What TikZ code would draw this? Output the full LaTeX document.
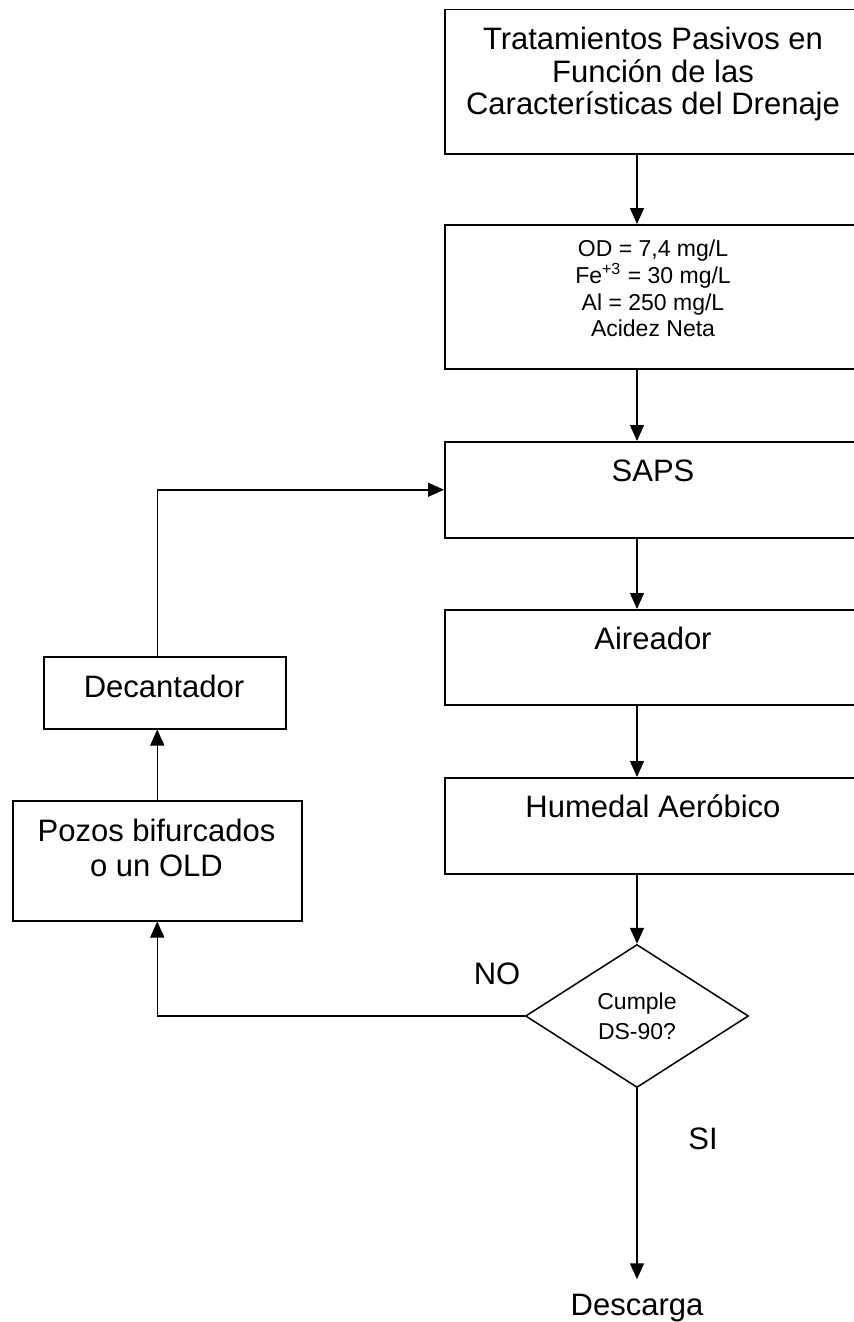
\documentclass[tikz,border=0pt]{standalone}
\usepackage{fontspec}
\setmainfont{Liberation Sans}
\usetikzlibrary{arrows.meta,shapes.geometric}

\begin{document}
\begin{tikzpicture}[x=0.5pt,y=-0.5pt,>={Triangle[length=8pt,width=7pt]},
  every node/.style={align=center},
  box/.style={draw,line width=0.75pt,anchor=north west,inner sep=0pt,minimum width=209pt},
  bigtxt/.style={font=\fontsize{15.5}{16.25}\selectfont},
  smalltxt/.style={font=\fontsize{11.5}{13.3}\selectfont},
  flow/.style={->,line width=0.75pt}]
  \useasboundingbox (0,0) rectangle (853,1322);
  % main column
  \coordinate (spine) at (637,0);
  \node[box,minimum height=72pt] (trat) at (444,9) {};
  \node[box,minimum height=72pt] (param) at (444,224) {};
  \node[box,minimum height=48pt] (saps) at (444,441) {};
  \node[box,minimum height=47.5pt] (aire) at (444,609) {};
  \node[box,minimum height=48pt] (hum) at (444,777) {};
  \node[draw,diamond,line width=0.75pt,inner sep=0pt,minimum width=111.5pt,minimum height=71.5pt,
    font=\fontsize{11.5}{15}\selectfont] (cumple) at (637,1016) {Cumple\\DS-90?};
  % return branch
  \node[box,minimum width=121pt,minimum height=36pt] (decant) at (43,656) {};
  \node[box,minimum width=144.5pt,minimum height=60pt] (pozos) at (12,800) {};
  % texts
  \node[bigtxt] (tratTxt) at (653,74) {Tratamientos Pasivos en\\Función de las\\Características del Drenaje};
  \node[smalltxt] (paramTxt) at (653,288.5) {OD = 7,4 mg/L\\Fe\textsuperscript{+3} = 30 mg/L\\Al = 250 mg/L\\Acidez Neta};
  \node[bigtxt,anchor=base] (sapsTxt) at (653,481) {SAPS};
  \node[bigtxt,anchor=base] (aireTxt) at (653,649) {Aireador};
  \node[bigtxt,anchor=base] (humTxt) at (653,817) {Humedal Aeróbico};
  \node[bigtxt,anchor=base] (decantTxt) at (164,697) {Decantador};
  \node[font=\fontsize{15.5}{17.5}\selectfont] (pozosTxt) at (156.5,848) {Pozos bifurcados\\o un OLD};
  \node[bigtxt,anchor=base] (noTxt) at (497,984) {NO};
  \node[bigtxt,anchor=base] (siTxt) at (703,1149) {SI};
  \node[bigtxt,anchor=base,inner sep=7pt] (descarga) at (637,1315) {Descarga};
  % connectors
  \draw[flow] (trat.south -| spine) -- (param.north -| spine);
  \draw[flow] (param.south -| spine) -- (saps.north -| spine);
  \draw[flow] (saps.south -| spine) -- (aire.north -| spine);
  \draw[flow] (aire.south -| spine) -- (hum.north -| spine);
  \draw[flow] (hum.south -| spine) -- (cumple.north);
  \draw[flow] (cumple.south) -- (descarga.north);
  \draw[flow] (cumple.west) -| (pozos.south);
  \draw[flow] (pozos.north) -- (pozos.north |- decant.south);
  \draw[flow] (pozos.north |- decant.north) |- (saps.west);
\end{tikzpicture}
\end{document}
